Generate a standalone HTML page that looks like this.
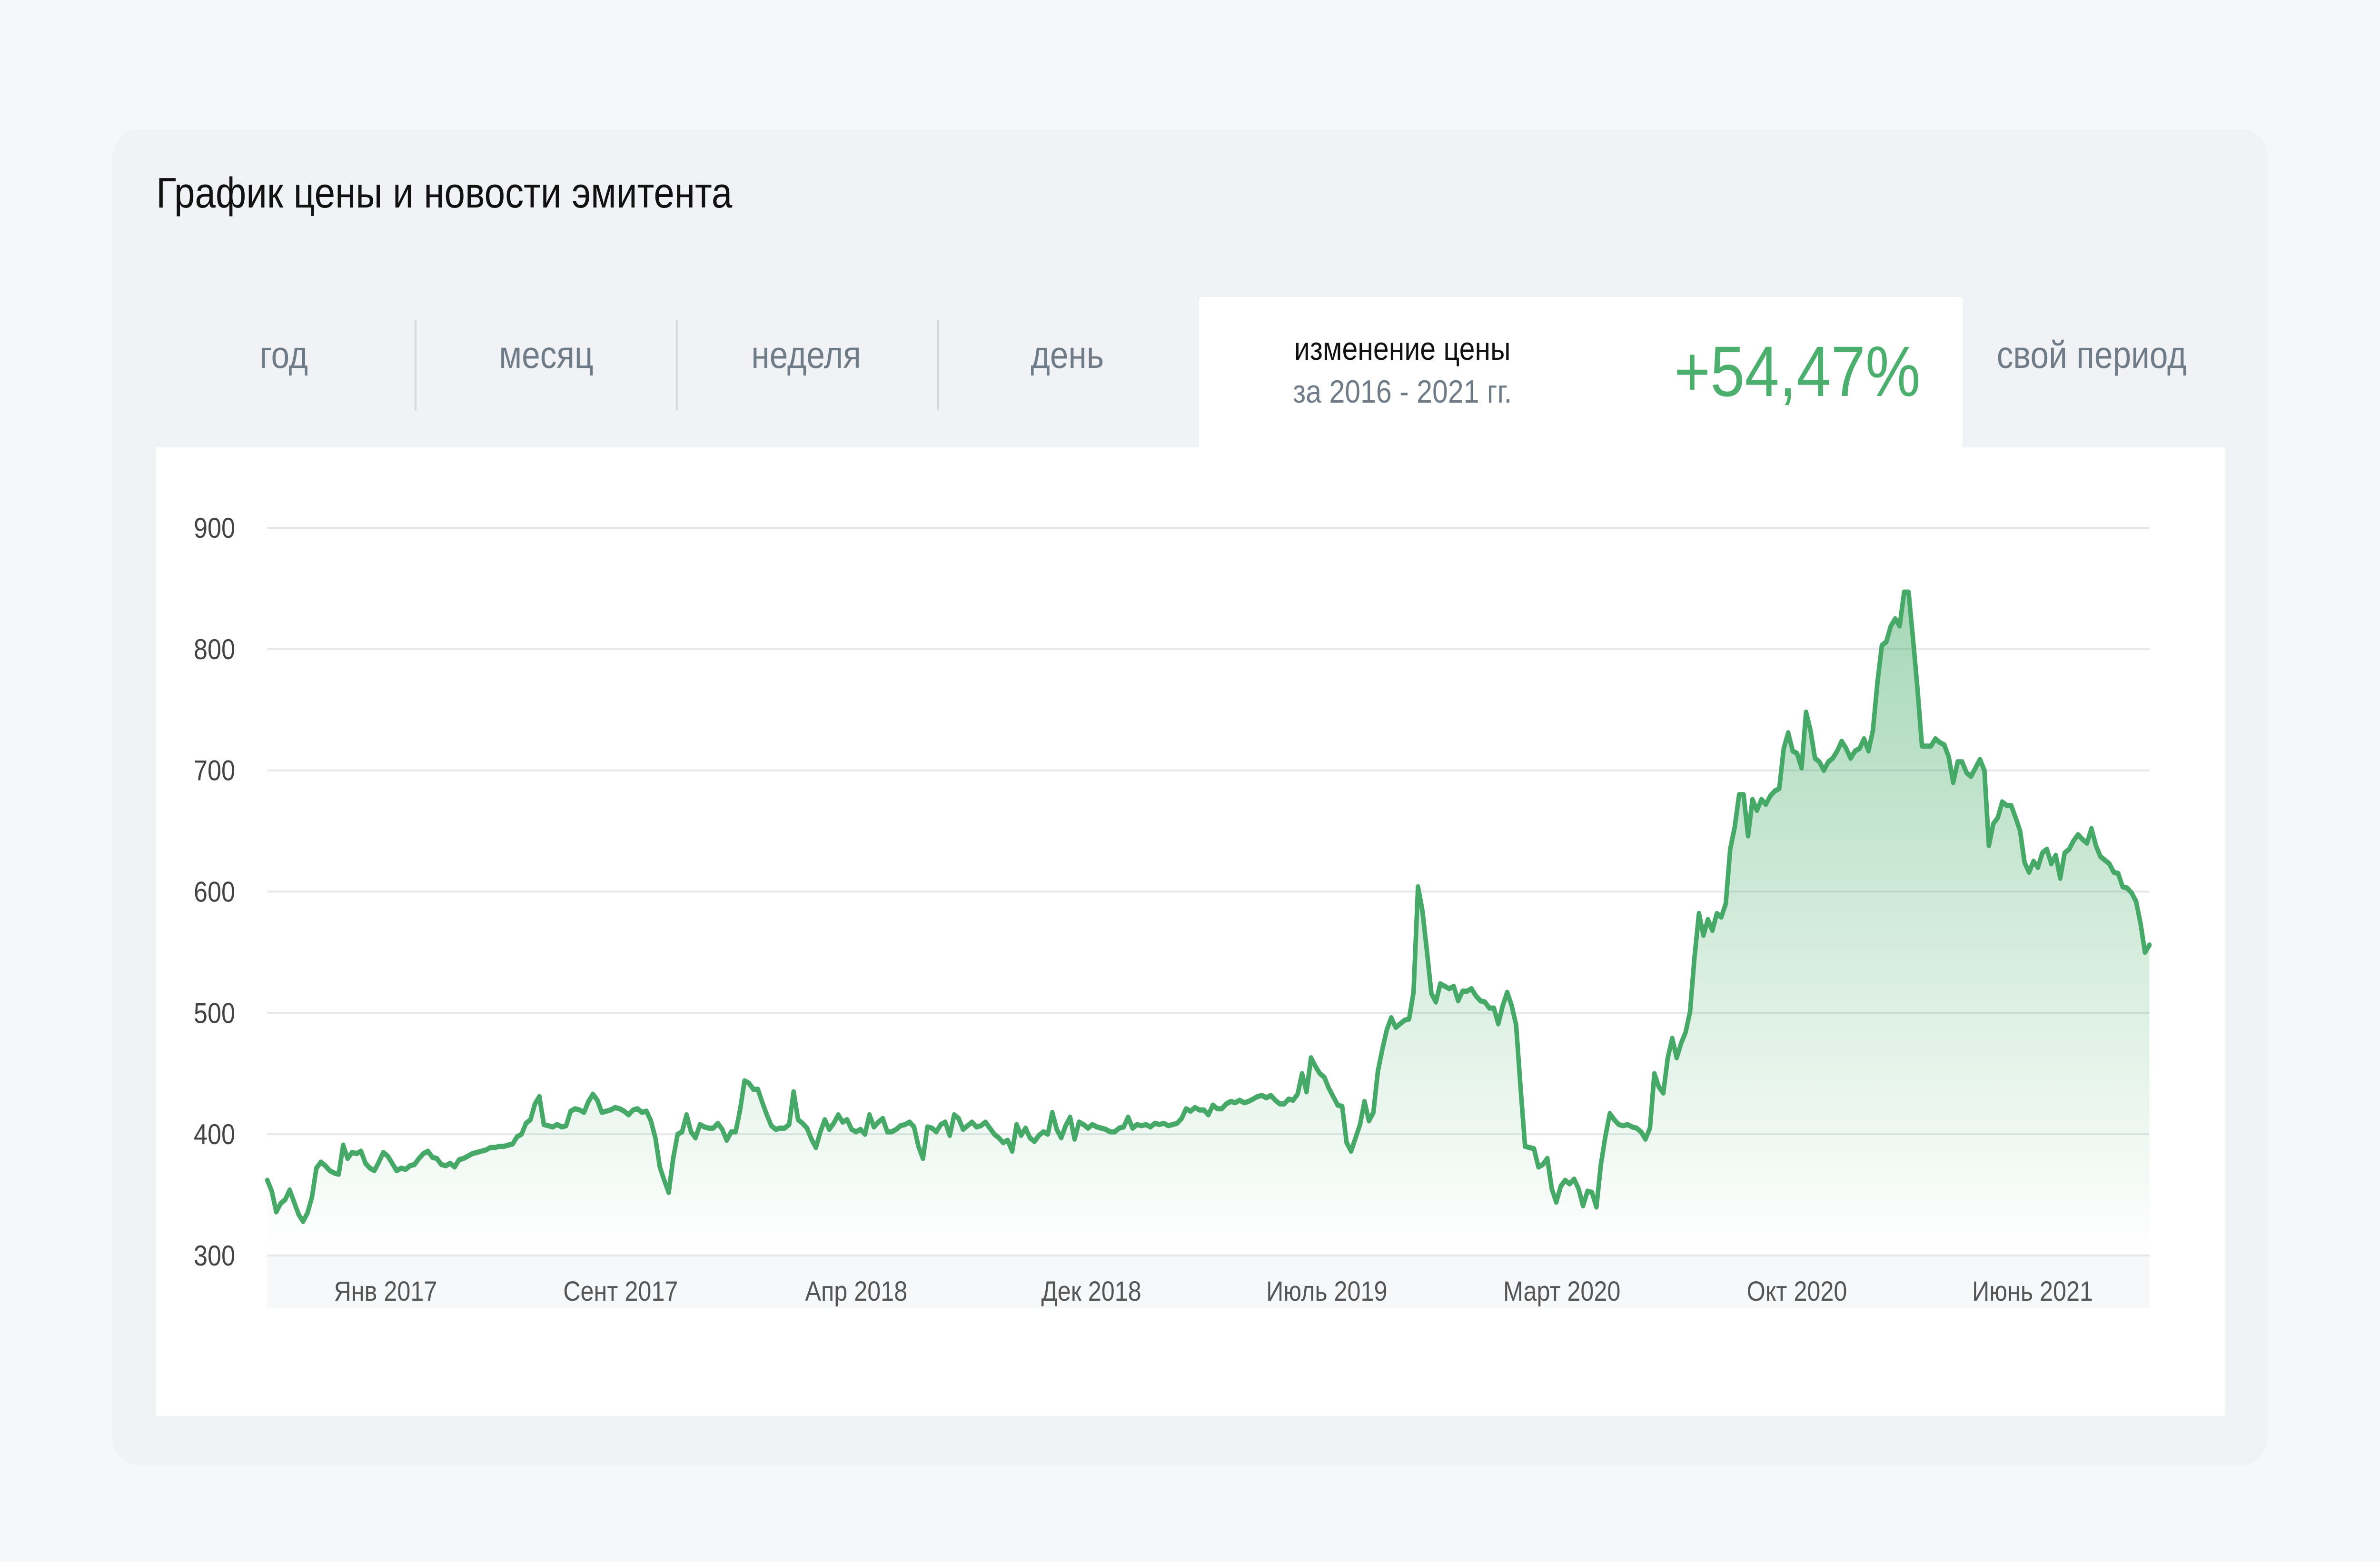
<!DOCTYPE html>
<html><head><meta charset="utf-8">
<meta name="viewport" content="width=5760, initial-scale=1">
<style>
html,body{margin:0;padding:0;overflow:hidden;background:#f6f7f9;}
#root{position:absolute;left:0;top:0;width:5760px;height:3282px;background:#f6f7f9;overflow:hidden;transform-origin:0 0;font-family:"Liberation Sans","DejaVu Sans",sans-serif;}
.card{position:absolute;left:272px;top:272px;width:5216px;height:2806px;background:#f1f2f5;border-radius:60px;}
.title{position:absolute;left:378px;top:355px;font-size:90px;color:#111;white-space:nowrap;}
.tab{position:absolute;top:700px;font-size:80px;color:#6f7c87;transform:translateX(-50%);white-space:nowrap;}
.div{position:absolute;top:672px;width:4px;height:190px;background:#d3d7db;}
.active{position:absolute;left:2902px;top:624px;width:1848px;height:318px;background:#fff;border-radius:8px 8px 0 0;}
.panel{position:absolute;left:378px;top:940px;width:5007px;height:2035px;background:#fff;}
</style></head>
<body>
<div id="root">
<div class="card"></div>
<div class="title">График цены и новости эмитента</div>
<div class="tab" style="left:687px">год</div>
<div class="div" style="left:1004px"></div>
<div class="tab" style="left:1322px">месяц</div>
<div class="div" style="left:1636px"></div>
<div class="tab" style="left:1951px">неделя</div>
<div class="div" style="left:2268px"></div>
<div class="tab" style="left:2583px">день</div>
<div class="active">
  <div style="position:absolute;left:492px;top:70px;width:0;white-space:nowrap;"><div style="transform:translateX(-50%);display:inline-block;font-size:68px;color:#111;">изменение цены</div></div>
  <div style="position:absolute;left:492px;top:160px;width:0;white-space:nowrap;"><div style="transform:translateX(-50%);display:inline-block;font-size:68px;color:#6f7c87;">за 2016 - 2021 гг.</div></div>
  <div style="position:absolute;right:102px;top:70px;font-size:150px;color:#4caf6e;white-space:nowrap;">+54,47%</div>
</div>
<div class="tab" style="left:5062px">свой период</div>
<div class="panel"></div>
<svg id="chart" width="5760" height="3282" style="position:absolute;left:0;top:0">
<defs><linearGradient id="fillg" x1="0" y1="0" x2="0" y2="1">
<stop offset="0" stop-color="#4caf6e" stop-opacity="0.5"/>
<stop offset="1" stop-color="#4caf6e" stop-opacity="0.0"/>
</linearGradient></defs>
</svg>
</div>
<script>
const prices=[362,353,336,343,346,354,344,334,328,335,348,372,377,374,370,368,367,391,380,385,384,386,376,372,370,377,385,382,376,370,372,371,374,375,380,384,386,381,380,375,374,376,373,379,380,382,384,385,386,387,389,389,390,390,391,392,398,400,409,412,425,431,408,407,406,408,406,407,419,421,420,418,427,433,428,418,419,420,422,421,419,416,420,421,418,419,411,397,373,362,352,380,400,402,416,402,397,408,406,405,405,409,404,395,402,402,420,444,442,437,437,426,416,407,404,405,405,408,435,412,409,405,396,389,402,412,404,409,416,410,412,404,402,404,400,416,406,410,413,402,402,404,407,408,410,406,390,380,406,405,402,408,410,399,416,413,404,407,410,406,407,410,405,400,397,393,395,386,408,399,405,397,394,399,402,400,418,404,397,407,414,396,410,408,405,408,406,405,404,402,402,405,406,414,405,408,407,408,406,409,408,409,407,408,409,413,421,419,422,420,
420,416,424,421,421,425,427,426,428,426,427,429,431,432,430,432,428,425,425,429,428,433,450,435,463,456,450,447,438,431,424,423,393,386,397,408,427,411,418,452,470,486,496,488,491,494,495,517,604,584,551,516,509,524,522,520,522,510,518,518,520,514,510,509,504,504,491,506,517,506,490,438,390,389,388,373,375,380,355,344,357,362,359,363,355,341,353,352,340,375,398,417,412,408,407,408,406,405,402,396,405,450,439,434,463,479,463,475,484,501,546,582,564,577,568,582,579,590,635,653,680,680,646,676,667,676,672,679,683,685,718,731,716,714,702,748,733,710,707,700,707,710,716,724,718,710,716,718,726,716,733,772,803,806,819,825,819,847,847,808,767,720,720,720,726,723,721,711,690,707,707,698,695,702,709,700,638,656,661,674,671,671,661,650,624,616,625,620,632,635,623,630,611,632,635,642,647,643,640,652,638,629,626,623,616,615,604,603,599,592,574,550,556];
const yTicks=[300,400,500,600,700,800,900];
const xTickLabels=["Янв 2017","Сент 2017","Апр 2018","Дек 2018","Июль 2019","Март 2020","Окт 2020","Июнь 2021"];
const xTickFrac=[0.0628,0.1877,0.3129,0.4378,0.5629,0.6878,0.8127,0.9379];

function fit(){
  const r=document.getElementById('root');
  const sx=window.innerWidth/5760, sy=window.innerHeight/3282;
  r.style.transform='scale('+sx+','+sy+')';
}
fit();
window.addEventListener('resize',fit);

const svg=document.getElementById('chart');
const NS='http://www.w3.org/2000/svg';
const X0=647,X1=5202,Y0=2638,Y1=1109,VMIN=300,VMAX=900;
function xs(i){return X0+(X1-X0)*i/(prices.length-1);}
function xf(f){return X0+(X1-X0)*f;}
function ys(v){return Y0-(v-VMIN)/(VMAX-VMIN)*(Y0-Y1);}
function mk(tag,attrs){const e=document.createElementNS(NS,tag);for(const k in attrs)e.setAttribute(k,attrs[k]);svg.appendChild(e);return e;}

const band=mk('rect',{x:X0,y:Y0,width:X1-X0,height:110,fill:'#f7f8f9'});



yTicks.forEach(t=>{
  const g=mk('line',{x1:X0,x2:X1,y1:ys(t),y2:ys(t),stroke:'#e5e7ea','stroke-width':4});
  
  
  const tx=mk('text',{x:569,y:ys(t)+21,'text-anchor':'end','font-size':60,fill:'#444','font-family':'Liberation Sans, sans-serif'});
  tx.textContent=t;
  
  
});

xTickLabels.forEach((l,i)=>{
  const tx=mk('text',{x:xf(xTickFrac[i]),y:2733,'text-anchor':'middle','font-size':58,fill:'#555','font-family':'Liberation Sans, sans-serif'});
  tx.textContent=l;
  
  
});

let d='';
prices.forEach((v,i)=>{d+=(i?'L':'M')+xs(i).toFixed(1)+','+ys(v).toFixed(1);});
const area=mk('path',{d:d+'L'+xs(prices.length-1)+','+Y0+'L'+X0+','+Y0+'Z',fill:'url(#fillg)',stroke:'none'});


const line=mk('path',{d:d,fill:'none',stroke:'#47a968','stroke-width':11,'stroke-linejoin':'round','stroke-linecap':'round'});


</script>
</body></html>
